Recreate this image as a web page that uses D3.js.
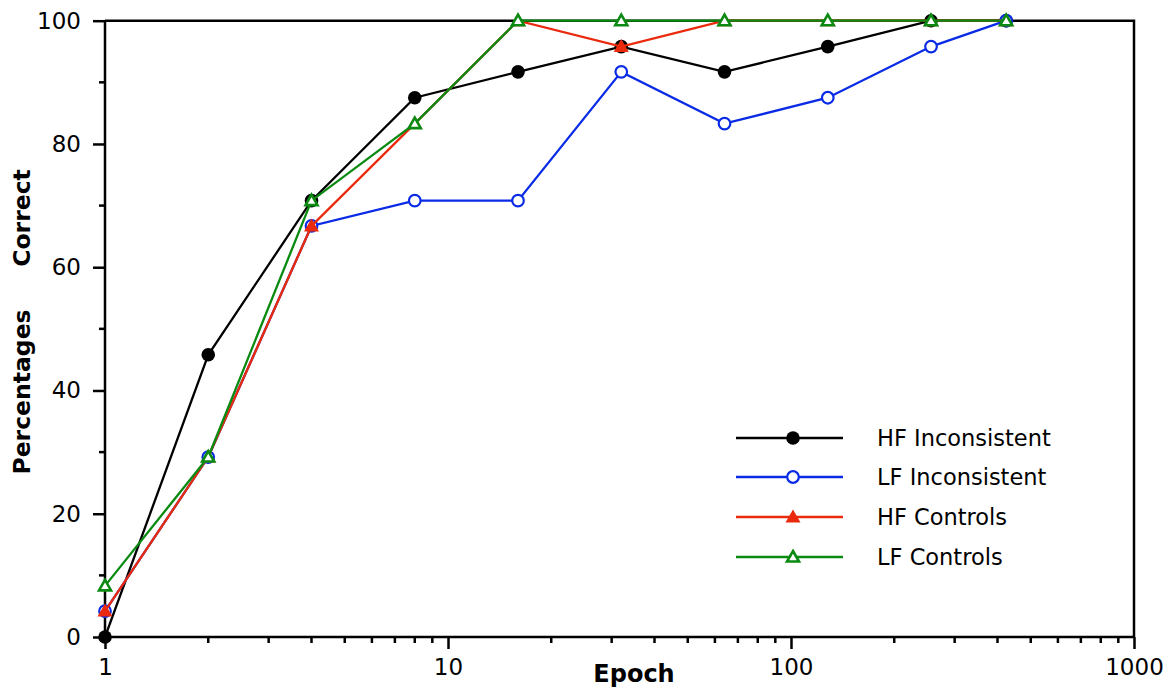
<!DOCTYPE html>
<html>
<head>
<meta charset="utf-8">
<script src="https://cdn.jsdelivr.net/npm/d3@7"></script>
<style>
  body { margin: 0; background: #fff; }
  svg { display: block; font-family: "DejaVu Sans", sans-serif; }
</style>
</head>
<body>
<svg id="chart" width="1173" height="691"></svg>
<script>
const epochs = [1, 2, 4, 8, 16, 32, 64, 128, 256, 424];
const hfInconsistent = [0, 45.8, 70.8, 87.5, 91.7, 95.8, 91.7, 95.8, 100, 100];
const lfInconsistent = [4.2, 29.2, 66.7, 70.8, 70.8, 91.7, 83.3, 87.5, 95.8, 100];
const hfControls = [4.2, 29.2, 66.7, 83.3, 100, 95.8, 100, 100, 100, 100];
const lfControls = [8.3, 29.2, 70.8, 83.3, 100, 100, 100, 100, 100, 100];
const seriesNames = ["HF Inconsistent", "LF Inconsistent", "HF Controls", "LF Controls"];
const yTicks = [0, 20, 40, 60, 80, 100];
const xTicks = [1, 10, 100, 1000];

const series = [
  { name: seriesNames[0], values: hfInconsistent, color: "#000000", marker: "circle", fill: true },
  { name: seriesNames[1], values: lfInconsistent, color: "#0a2be6", marker: "circle", fill: false },
  { name: seriesNames[2], values: hfControls, color: "#ea2a0c", marker: "triangle", fill: true },
  { name: seriesNames[3], values: lfControls, color: "#0b8a12", marker: "triangle", fill: false }
];

const svg = d3.select("#chart");
const pLeft = 105, pRight = 1134, pTop = 20.7, pBottom = 637;

const x = d3.scaleLog().domain([1, 1000]).range([pLeft, pRight]);
const y = d3.scaleLinear().domain([0, 100]).range([pBottom, pTop]);

// frame (top and right)
svg.append("path")
  .attr("d", `M${pLeft},${pTop}H${pRight}V${pBottom}`)
  .attr("fill", "none").attr("stroke", "#000").attr("stroke-width", 2.5);

// x axis
const xMinor = [];
for (let d = 1; d < 1000; d *= 10) for (let k = 2; k <= 9; k++) xMinor.push(d * k);
const xAxisG = svg.append("g").attr("transform", `translate(0,${pBottom})`);
xAxisG.call(d3.axisBottom(x).tickValues(xTicks).tickSize(12).tickPadding(10).tickFormat(d3.format("d")));
xAxisG.selectAll(".tick line").attr("stroke-width", 2.5);
xAxisG.selectAll(".tick text").attr("font-size", 23).attr("font-family", "DejaVu Sans").attr("fill", "#000");
xAxisG.select(".domain").attr("stroke-width", 2.5).attr("d", `M${pLeft},0H${pRight}`);
xAxisG.selectAll(".minor").data(xMinor).enter().append("line")
  .attr("x1", d => x(d)).attr("x2", d => x(d)).attr("y1", 0).attr("y2", 6)
  .attr("stroke", "#000").attr("stroke-width", 2.5);

// y axis
const yAxisG = svg.append("g").attr("transform", `translate(${pLeft},0)`);
yAxisG.call(d3.axisLeft(y).tickValues(yTicks).tickSize(12).tickPadding(12));
yAxisG.selectAll(".tick line").attr("stroke-width", 2.5);
yAxisG.selectAll(".tick text").attr("font-size", 23).attr("font-family", "DejaVu Sans").attr("fill", "#000");
yAxisG.select(".domain").attr("stroke-width", 2.5).attr("d", `M0,${pBottom}V${pTop}`);
const yMinor = [10, 30, 50, 70, 90];
yAxisG.selectAll(".minor").data(yMinor).enter().append("line")
  .attr("x1", -6).attr("x2", 0).attr("y1", d => y(d)).attr("y2", d => y(d))
  .attr("stroke", "#000").attr("stroke-width", 2.5);

// axis titles
svg.append("text").attr("x", 634).attr("y", 682).attr("text-anchor", "middle")
  .attr("font-size", 24).attr("font-weight", "bold").text("Epoch");
svg.append("text").attr("transform", "translate(30,392) rotate(-90)").attr("text-anchor", "middle")
  .attr("font-size", 23.5).attr("font-weight", "bold").text("Percentages");
svg.append("text").attr("transform", "translate(30,218) rotate(-90)").attr("text-anchor", "middle")
  .attr("font-size", 23.5).attr("font-weight", "bold").text("Correct");

const line = d3.line().x((d, i) => x(epochs[i])).y(d => y(d));
const triPath = "M0,-7.5L7.5,5.5L-7.5,5.5Z";
const triOpen = "M0,-6L6,4.5L-6,4.5Z";

function drawMarker(g, s, cx, cy) {
  if (s.marker === "circle") {
    g.append("circle").attr("cx", cx).attr("cy", cy)
      .attr("r", s.fill ? 6.8 : 5.8)
      .attr("fill", s.fill ? s.color : "#fff")
      .attr("stroke", s.color).attr("stroke-width", s.fill ? 0 : 2.2);
  } else {
    g.append("path").attr("d", s.fill ? triPath : triOpen)
      .attr("transform", `translate(${cx},${cy})`)
      .attr("fill", s.fill ? s.color : "#fff")
      .attr("stroke", s.color).attr("stroke-width", s.fill ? 0 : 2.6)
      .attr("stroke-linejoin", "miter");
  }
}

series.forEach(s => {
  const g = svg.append("g");
  g.append("path").datum(s.values).attr("d", line)
    .attr("fill", "none").attr("stroke", s.color).attr("stroke-width", 2.3);
  s.values.forEach((v, i) => drawMarker(g, s, x(epochs[i]), y(v)));
});

// legend
const legendY = [438, 477, 517, 557];
series.forEach((s, i) => {
  const g = svg.append("g");
  g.append("line").attr("x1", 736).attr("x2", 843).attr("y1", legendY[i]).attr("y2", legendY[i])
    .attr("stroke", s.color).attr("stroke-width", 2.3);
  drawMarker(g, s, 793, legendY[i]);
  g.append("text").attr("x", 877).attr("y", legendY[i]).attr("dy", "0.36em")
    .attr("font-size", 22.5).attr("fill", "#000").text(s.name);
});
</script>
</body>
</html>
